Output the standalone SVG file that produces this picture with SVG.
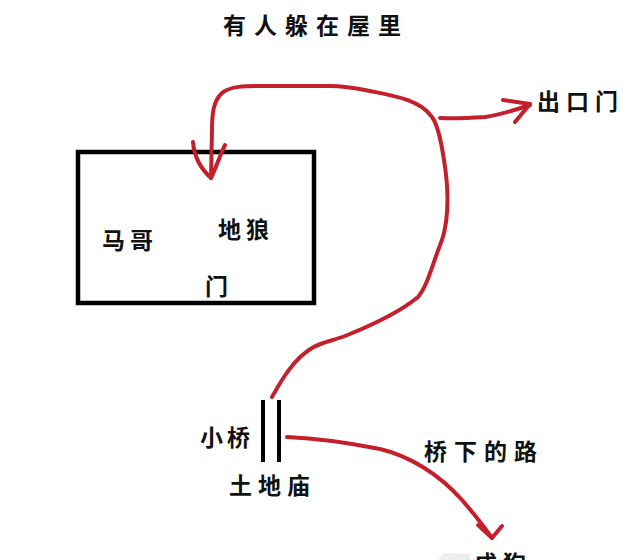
<svg xmlns="http://www.w3.org/2000/svg" width="643" height="560" viewBox="0 0 643 560">
<style>
.t{font-family:"Noto Sans CJK SC","Noto Sans CJK TC",sans-serif;font-size:23px;font-weight:700;fill:#111}
.r{fill:none;stroke:#c41f2b;stroke-width:4;stroke-linecap:round;stroke-linejoin:round}
.k{fill:none;stroke:#000;stroke-linecap:butt}
</style>
<rect width="643" height="560" fill="#fff"/>
<g id="title"><text class="t" x="316" y="34" text-anchor="middle" letter-spacing="8" font-size="24">有人躲在屋里</text></g>
<g id="house">
<rect class="k" x="78" y="152" width="236" height="151" stroke-width="4.5"/>
<text class="t" x="102" y="249" letter-spacing="5">马哥</text>
<text class="t" x="218" y="238" letter-spacing="5">地狼</text>
<text class="t" x="205" y="295">门</text>
</g>
<g id="exit"><text class="t" x="537" y="110" letter-spacing="6" font-size="22">出口门</text></g>
<g id="bridge">
<line class="k" x1="263" y1="400" x2="263" y2="462" stroke-width="4"/>
<line class="k" x1="279" y1="400" x2="279" y2="462" stroke-width="4"/>
<text class="t" x="200" y="446" letter-spacing="4">小桥</text>
<text class="t" x="229" y="494" letter-spacing="6">土地庙</text>
</g>
<g id="road"><text class="t" x="424" y="460" letter-spacing="7">桥下的路</text></g>
<g id="dog">
<path d="M438 560 L444 553 L470 554 L470 560 Z" fill="#eeeeee"/>
<text class="t" x="474" y="572" letter-spacing="6">戌狗</text>
</g>
<g id="connectors">
<path class="r" d="M272 397 C280 383 292 360 312 348 C322 342 332 341 345 336 C370 326 400 312 418 297 C428 285 432 265 442 240 C450 215 448 185 444 160 C441 140 438 125 432 117 C420 100 395 96 370 91 C355 88 345 86 330 86 L263 86 C245 86 230 86 222 93 C213 101 212 115 212 130 L211 178"/>
<path class="r" d="M193 142 C194 155 200 168 211 178 C216 168 220 155 225 145"/>
<path class="r" d="M440 118 C455 119 470 118 485 117 C500 115 515 110 530 105"/>
<path class="r" d="M503 100 L530 104 L515 122"/>
<path class="r" d="M287 437 C310 438 340 441 380 449 C410 456 440 475 462 500 C475 515 485 528 492 538"/>
<path class="r" d="M478 525 L492 538 L502 526"/>
</g>
</svg>
